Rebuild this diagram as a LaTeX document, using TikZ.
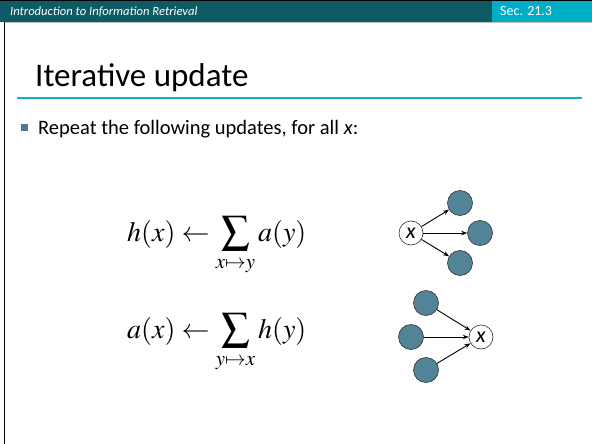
\documentclass[tikz,border=0pt]{standalone}
\usepackage{mathptmx}
\usepackage{fontspec}
\setmainfont{Carlito}
\usetikzlibrary{arrows.meta}
\definecolor{hdrdark}{HTML}{0F5B65}
\definecolor{hdrlight}{HTML}{00ADC6}
\definecolor{rule}{HTML}{14AFC8}
\definecolor{nodefill}{HTML}{528396}
\definecolor{bulletc}{HTML}{4F7A92}
\tikzset{
  filled/.style={circle, draw=black!80, line width=0.6pt, fill=nodefill, minimum size=25pt, inner sep=0pt},
  xnode/.style={circle, draw=black!80, line width=0.6pt, fill=white, minimum size=24pt, inner sep=0pt, font=\fontsize{22}{22}\selectfont\itshape},
  edge/.style={line width=0.9pt, -{Stealth[length=6pt,width=4.5pt]}},
  formula/.style={anchor=base west, inner sep=0pt, font=\fontsize{28}{32}\selectfont}
}
\begin{document}
\begin{tikzpicture}[x=1pt,y=-1pt]
\useasboundingbox (0,0) rectangle (592,444);
\fill[white] (0,0) rectangle (592,444);
% header
\fill[hdrdark] (0,0) rectangle (492,22);
\fill[hdrlight] (492,0) rectangle (592,22);
\fill[black] (0,0) rectangle (592,1.5);
\fill[black!25] (4,22) rectangle (592,23.5);
\node[anchor=base west, inner sep=0pt, text=white, font=\fontsize{12.6}{12.6}\selectfont\itshape] (hdr) at (10,15.5) {Introduction to Information Retrieval};
\node[anchor=base west, inner sep=0pt, text=white, font=\fontsize{14}{14}\selectfont] (sec) at (500,16) {Sec. 21.3};
% left border
\draw[black, line width=1.6pt] (4.5,22) -- (4.5,444);
% title
\node[anchor=base west, inner sep=0pt, font=\fontsize{33}{33}\selectfont] (title) at (35,87) {Iterative update};
\draw[rule, line width=2pt] (17,98) -- (582,98);
% bullet
\fill[bulletc] (21,124) rectangle (28,131);
\node[anchor=base west, inner sep=0pt, font=\fontsize{20.5}{20.5}\selectfont] (bul) at (38,134) {Repeat the following updates, for all \textit{x}:};
% formulas
\node[formula] (f1) at (127,241) {$\displaystyle h(x) \leftarrow \sum_{x\mapsto y} a(y)$};
\node[formula] (f2) at (127,338) {$\displaystyle a(x) \leftarrow \sum_{y\mapsto x} h(y)$};
% top graph
\node[xnode] (x1) at (411,233) {x};
\node[filled] (t1) at (460,203) {};
\node[filled] (t2) at (480,233) {};
\node[filled] (t3) at (460,263) {};
\draw[edge] (x1) -- (t1);
\draw[edge] (x1) -- (t2);
\draw[edge] (x1) -- (t3);
% bottom graph
\node[xnode] (x2) at (481,337) {x};
\node[filled] (b1) at (426,303) {};
\node[filled] (b2) at (411,337) {};
\node[filled] (b3) at (426,370) {};
\draw[edge] (b1) -- (x2);
\draw[edge] (b2) -- (x2);
\draw[edge] (b3) -- (x2);
\end{tikzpicture}
\end{document}
